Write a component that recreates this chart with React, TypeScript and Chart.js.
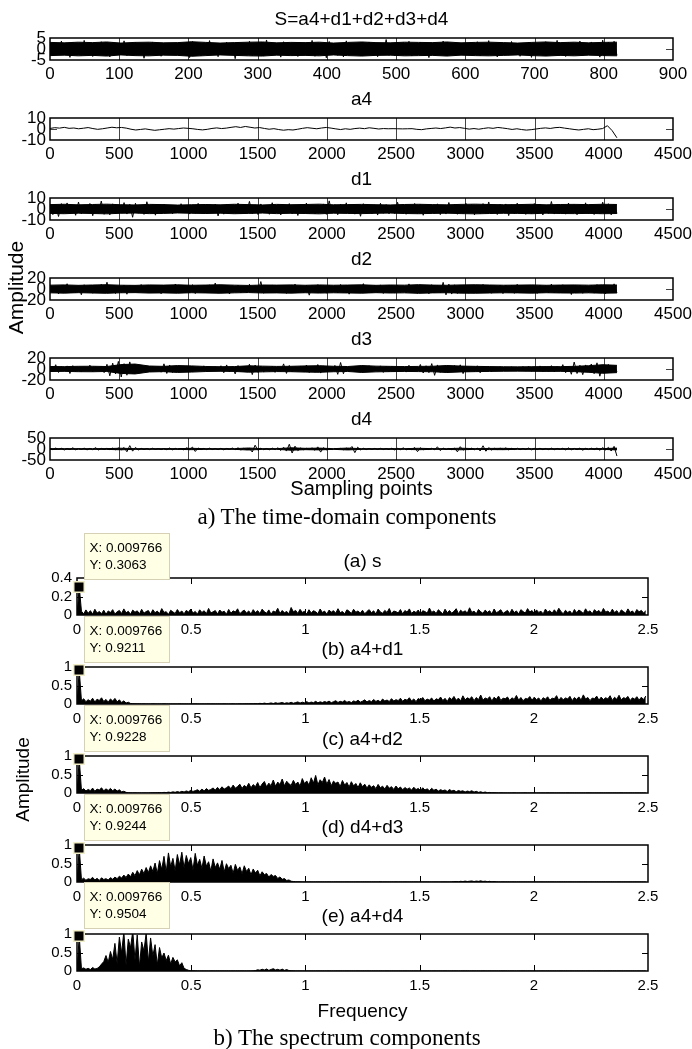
import { useEffect, useRef } from 'react';
import { Chart, registerables } from 'chart.js';

Chart.register(...registerables);

const SANS = '"Liberation Sans", Arial, Helvetica, sans-serif';
const SERIF = '"Liberation Serif", "Times New Roman", serif';

// ---------- time-domain data (decimated samples) ----------
const sLength = 820;
const sSignal = [
  2.8,-3.1,1.9,-2.4,3.6,-1.7,2.2,-3.8,3.1,-2.0,
  1.6,-2.9,3.9,-2.2,2.5,-3.4,1.8,-1.5,3.3,-2.7,
  2.1,-3.6,2.9,-1.9,1.4,-2.6,3.7,-3.0,2.3,-2.1,
  3.0,-1.8,2.6,-4.2,1.7,-2.3,3.2,-2.8,2.0,-3.3,
  1.5,-2.0,2.4,-1.6,1.9,-2.5,1.3,-1.8,2.7,-3.9,
  3.4,-2.6,2.0,-3.1,2.8,-1.9,3.8,-2.4,1.6,-3.5,
  2.5,-2.2,3.1,-1.7,2.2,-4.4,2.9,-2.0,1.8,-2.8,
  3.5,-3.0,2.4,-2.3,1.7,-3.2,4.1,-2.5,2.6,-1.9,
  2.0,-3.7,3.3,-2.1,2.7,-2.9,1.9,-3.4,3.0,-2.2,
  2.3,-1.6,3.9,-3.3,2.1,-2.4,2.8,-4.0,3.4,-2.7,
  1.8,-2.9,2.5,-3.6,3.7,-2.0,2.2,-2.6,1.6,-3.1,
  2.9,-2.3,3.2,-1.8,2.0,-3.5,2.6,-2.2,4.3,-2.9,
  2.4,-3.0,1.7,-2.4,2.9,-1.9,3.5,-3.2,2.1,-2.5,
  3.1,-2.7,2.3,-3.9,1.9,-2.1,2.7,-2.8,3.6,-2.0,
  1.7,-2.4,2.2,-1.7,1.6,-2.2,2.0,-1.9,2.5,-2.6,
  3.3,-3.1,2.6,-2.5,3.8,-2.3,2.1,-3.6,2.8,-2.1,
  2.2,-2.8,3.4,-2.0,2.5,-3.3,1.9,-2.6,3.0,-3.8,
  2.7,-2.2,1.8,-2.9,3.3,-2.4,2.4,-1.8,3.9,-3.0,
  2.0,-3.4,2.9,-2.7,2.3,-2.0,3.6,-3.1,2.6,-2.5,
  3.2,-2.1,2.5,-3.7,4.0,-2.8,3.1,-2.3,3.5,-2.9,
];
// half-width of the solid core of the dense trace, along the record
const sCore = [3.0,2.8,3.1,2.9,3.2,2.7,3.0,3.1,2.8,2.9,3.3,3.0,2.7,2.9,3.1,3.2,2.8,3.0,2.9,3.1,2.7,3.0,3.2,2.9,2.8,3.1,3.0,2.9,3.2,2.8,3.0,3.1,2.9,2.7,3.0,3.2,2.9,3.1,2.8,3.0,3.1];

const compLength = 4096;
const a4Signal = [
  0.5,1.2,0.8,1.5,0.6,0.9,0.2,0.7,1.3,0.4,
  -0.3,0.2,0.9,1.6,1.1,1.4,0.8,-0.2,-0.9,-0.4,
  0.1,-0.6,-1.2,-0.7,-0.2,0.3,-0.1,0.4,0.9,0.6,
  0.2,-0.4,-0.8,-0.3,0.5,1.0,0.4,0.8,1.5,2.1,
  1.4,2.3,1.6,0.9,1.3,0.5,-0.2,0.3,-0.5,-1.1,
  -0.6,-0.9,-0.2,0.6,1.2,0.7,0.2,0.9,1.4,0.8,
  0.1,-0.5,0.2,-0.3,0.4,0.8,0.3,1.1,0.6,0.0,
  0.4,0.2,0.3,0.2,0.1,0.2,0.3,-0.3,-0.6,0.1,
  0.5,0.9,0.4,1.0,1.7,0.9,1.3,0.6,-0.1,0.4,
  -0.2,0.5,1.1,0.6,1.4,0.9,0.3,-0.4,0.2,-0.5,
  -1.0,-0.6,0.0,0.6,1.0,0.5,1.2,1.5,0.8,0.2,
  -0.4,-0.9,-0.3,0.2,-0.6,-0.2,0.4,3.0,-1.5,-8.0,
];

const d1Signal = [
  4.2,-5.1,3.3,-6.8,4.9,-3.6,5.5,-4.2,3.1,-5.7,
  6.3,-4.4,3.8,-3.2,5.0,-6.1,4.1,-3.9,7.2,-4.8,
  3.6,-5.3,4.7,-4.0,3.0,-3.5,5.8,-4.6,4.3,-7.5,
  5.2,-3.8,3.4,-4.9,6.6,-3.3,4.0,-5.6,3.7,-4.1,
  4.5,-3.1,3.2,-4.4,2.9,-3.7,4.8,-2.8,3.5,-4.6,
  3.0,-3.9,5.1,-3.4,2.7,-4.2,3.9,-3.0,4.4,-6.3,
  3.3,-4.7,4.1,-2.9,3.6,-3.8,5.3,-4.1,3.1,-3.6,
  6.9,-4.3,3.8,-5.0,4.6,-3.2,3.4,-4.8,5.7,-3.5,
  4.0,-5.4,3.2,-3.7,4.9,-4.4,3.6,-5.9,4.3,-3.1,
  5.4,-4.0,3.7,-4.5,3.0,-3.6,4.6,-4.9,7.4,-3.8,
  3.9,-5.2,4.4,-3.3,5.6,-4.2,3.5,-4.7,4.1,-6.6,
  4.8,-3.6,3.1,-4.3,3.8,-5.5,5.2,-3.9,4.0,-4.4,
  3.4,-4.1,6.1,-3.6,4.5,-4.8,3.3,-3.5,5.0,-4.0,
  4.2,-5.7,3.9,-4.3,3.2,-3.9,4.7,-5.1,3.6,-4.6,
  5.9,-3.4,4.3,-4.8,3.7,-4.1,5.1,-3.7,4.0,-5.3,
  3.5,-4.4,4.9,-3.9,6.4,-4.5,3.8,-5.0,4.4,-3.6,
  4.6,-6.0,3.9,-4.2,5.3,-3.7,4.1,-4.9,3.4,-4.3,
  5.0,-3.8,4.5,-5.4,3.6,-4.0,6.8,-4.6,4.2,-3.9,
  3.7,-4.7,5.4,-3.5,4.4,-5.2,3.9,-4.1,5.6,-4.4,
  4.1,-5.0,3.6,-4.5,6.2,-3.9,4.8,-5.3,4.3,-4.0,
];
const d1Core = [4.0,4.3,3.8,4.1,4.4,3.9,3.7,4.2,4.0,3.6,3.9,4.1,3.8,4.3,4.0,3.7,4.2,3.9,4.1,4.4,3.8,4.0,4.2,3.9,3.7,4.1,4.3,4.0,3.8,4.2,4.4,4.1,3.9,4.0,4.3,3.8,4.1,4.2,4.0,4.3,4.1];

const d2Signal = [
  7.5,-6.2,5.8,-8.9,6.4,-5.1,9.6,-7.0,5.5,-6.8,
  6.1,-10.4,7.7,-5.6,6.9,-7.8,5.2,-6.3,8.4,-5.9,
  12.3,-7.1,6.0,-8.2,5.4,-6.6,7.3,-9.5,6.2,-5.7,
  5.9,-6.5,8.1,-5.3,6.6,-7.4,5.1,-6.0,7.0,-8.6,
  6.8,-5.5,5.6,-7.2,9.1,-6.1,6.3,-5.4,5.8,-6.9,
  7.9,-8.3,6.5,-5.8,5.3,-6.7,7.6,-6.2,10.8,-7.5,
  5.7,-6.4,6.8,-9.1,6.0,-5.6,7.2,-6.8,5.5,-7.3,
  8.6,-5.9,6.2,-6.6,13.5,-7.7,5.9,-6.1,7.4,-5.8,
  6.4,-7.0,5.6,-8.0,6.7,-6.3,8.9,-5.7,6.1,-6.9,
  7.1,-11.2,6.3,-5.9,7.8,-6.4,5.8,-7.6,6.6,-6.0,
  5.9,-6.8,8.2,-6.1,6.4,-9.4,7.0,-5.8,6.2,-7.1,
  9.7,-6.5,5.8,-7.3,6.9,-6.0,7.5,-8.1,6.3,-5.9,
  6.6,-7.4,7.2,-6.2,5.7,-6.9,9.3,-6.4,6.8,-7.8,
  7.4,-6.0,6.1,-8.7,7.9,-6.5,6.0,-7.2,12.1,-10.6,
  8.8,-9.2,7.6,-8.1,6.7,-6.3,7.1,-7.5,6.4,-6.8,
  6.2,-7.0,8.3,-5.9,6.6,-7.7,5.9,-6.2,7.3,-8.4,
  7.0,-6.1,6.4,-7.9,8.6,-6.6,6.8,-5.7,6.1,-7.2,
  5.8,-8.0,7.1,-6.4,6.0,-6.9,9.0,-7.3,6.5,-5.9,
  7.7,-6.6,6.2,-10.1,7.4,-6.1,6.9,-7.8,5.9,-6.4,
  6.8,-7.5,8.0,-6.3,6.3,-8.8,7.2,-6.7,9.4,-7.0,
];
const d2Core = [7.0,7.5,6.7,7.3,7.8,6.9,6.6,7.4,7.1,7.6,6.8,7.2,7.7,7.0,6.5,7.3,7.1,7.5,6.8,7.4,6.9,7.2,7.6,6.7,7.3,7.0,7.9,7.1,6.8,7.5,7.7,7.3,6.9,7.1,7.5,6.8,7.2,7.4,7.0,7.6,7.3];

const d3Signal = [
  5.2,-4.1,7.8,-6.3,4.4,-3.9,5.6,-8.2,6.1,-4.7,
  3.8,-5.5,4.2,-3.6,6.9,-5.1,4.0,-3.4,5.3,-6.6,
  8.5,-12.4,10.6,-9.1,13.8,-14.6,9.7,-11.3,12.9,-8.4,
  6.2,-5.4,4.6,-4.0,3.5,-4.4,5.1,-3.7,4.3,-5.8,
  9.4,-8.1,7.3,-6.5,4.8,-5.2,3.9,-4.3,5.6,-4.0,
  3.6,-3.2,4.1,-3.8,5.7,-4.5,3.4,-3.0,4.2,-3.6,
  5.9,-6.8,7.4,-5.5,4.6,-8.9,6.3,-5.1,4.4,-3.8,
  8.7,-10.2,7.1,-6.0,4.9,-5.6,3.8,-4.2,5.0,-6.1,
  4.1,-4.8,9.3,-8.0,6.4,-5.2,4.3,-3.9,5.5,-4.6,
  7.2,-6.4,4.8,-5.9,8.1,-7.4,5.6,-4.4,3.7,-4.0,
  6.5,-9.7,11.8,-8.6,5.4,-4.9,4.0,-3.6,5.2,-4.3,
  3.9,-4.5,6.0,-5.3,4.4,-3.8,5.7,-6.2,4.6,-5.0,
  5.3,-4.7,3.9,-4.2,4.8,-5.6,6.8,-5.2,4.1,-3.7,
  8.2,-7.3,5.9,-6.6,9.8,-11.5,7.4,-6.1,5.3,-4.8,
  4.7,-5.5,6.3,-4.9,7.6,-8.4,5.1,-4.4,3.9,-4.6,
  5.8,-6.9,4.4,-3.9,5.0,-4.5,3.6,-3.2,4.2,-3.8,
  3.4,-3.0,4.1,-3.6,2.9,-3.3,4.5,-3.9,5.2,-4.4,
  4.0,-3.5,5.6,-4.8,3.7,-4.2,6.1,-5.4,4.6,-3.9,
  7.9,-6.7,5.3,-9.6,12.6,-8.2,6.8,-10.3,7.4,-5.9,
  9.1,-8.5,11.2,-13.1,7.6,-6.9,8.3,-7.2,6.0,-5.0,
];
const d3Core = [4.6,4.3,4.9,5.0,4.5,8.0,9.0,5.4,4.8,6.2,5.6,4.6,4.2,4.4,5.8,5.2,4.7,4.9,5.6,6.0,5.0,4.5,6.3,5.2,4.8,4.4,4.7,5.0,6.4,5.3,4.8,4.4,4.1,3.9,4.2,4.4,4.3,4.8,6.0,7.8,6.6];

const d4Signal = [
  2.5,-3.1,4.2,-2.0,3.3,-4.6,2.1,-2.8,5.4,-3.7,
  2.2,-1.9,3.8,-4.1,2.6,-3.0,6.2,-4.5,2.9,-2.4,
  3.5,-2.7,4.0,-3.3,5.1,-3.9,6.8,-12.5,15.3,-9.8,
  7.1,-4.4,3.0,-2.6,2.1,-2.9,3.4,-2.2,1.8,-2.5,
  2.4,-3.2,4.6,-3.8,2.7,-2.1,3.1,-4.3,5.8,-3.0,
  8.6,-11.2,4.7,-3.5,2.6,-2.8,3.7,-2.3,2.0,-2.7,
  3.3,-3.9,2.5,-2.0,4.4,-3.1,5.6,-4.8,3.2,-2.6,
  2.9,-13.7,17.4,-6.2,3.8,-3.0,2.4,-3.6,4.1,-2.8,
  5.5,-6.7,8.1,-9.4,21.6,-18.3,12.8,-7.5,4.6,-3.4,
  3.1,-2.5,4.9,-5.8,9.7,-14.2,6.3,-3.9,2.7,-3.3,
  2.4,-2.0,2.8,-3.5,3.9,-2.6,11.4,-16.5,8.2,-4.1,
  3.2,-2.7,2.2,-1.9,2.6,-2.3,3.0,-2.5,2.1,-2.8,
  3.6,-4.4,2.9,-3.2,5.3,-4.0,2.7,-3.1,6.9,-11.9,
  5.7,-3.6,2.8,-2.4,3.4,-2.9,9.5,-7.3,4.2,-3.5,
  2.6,-3.0,4.3,-12.8,10.6,-5.2,3.1,-2.7,3.8,-3.3,
  4.5,-8.9,14.7,-10.1,6.4,-4.8,3.3,-2.9,4.0,-3.6,
  5.2,-4.1,3.0,-2.5,3.7,-3.2,2.6,-2.2,4.4,-3.8,
  2.9,-2.4,3.5,-3.0,2.3,-2.8,3.9,-3.4,2.7,-2.1,
  3.4,-4.0,5.1,-3.6,2.8,-3.3,4.2,-5.5,3.0,-2.6,
  3.8,-3.1,4.7,-5.9,6.6,-4.4,7.3,-9.2,12.1,-32.0,
];
const d4Core = [1.5,1.6,1.4,1.5,1.8,3.5,1.5,1.4,1.6,1.7,3.0,1.5,1.4,1.6,4.5,1.6,1.5,5.5,3.0,4.0,1.6,4.2,1.5,1.4,1.6,1.5,3.2,1.6,1.7,3.6,1.5,2.6,3.0,1.6,1.4,1.6,1.5,1.7,1.6,1.8,4.0];

// ---------- spectrum data (one value per frequency bin) ----------
const freqStep = 0.009766;
const tipYs = [0.3063, 0.9211, 0.9228, 0.9244, 0.9504];

const specS = [
  0.0,0.3063,0.041,0.012,0.055,0.018,0.047,0.009,0.062,0.021,0.038,0.014,0.052,0.007,0.044,0.026,
  0.058,0.011,0.035,0.049,0.016,0.066,0.023,0.040,0.008,0.053,0.030,0.045,0.013,0.061,0.019,0.037,
  0.048,0.010,0.057,0.025,0.042,0.015,0.069,0.028,0.036,0.006,0.051,0.033,0.017,0.059,0.024,0.043,
  0.012,0.050,0.031,0.064,0.020,0.039,0.009,0.056,0.027,0.046,0.014,0.071,0.022,0.034,0.048,0.011,
  0.054,0.029,0.041,0.008,0.060,0.018,0.045,0.032,0.067,0.013,0.038,0.052,0.021,0.044,0.010,0.058,
  0.026,0.047,0.015,0.063,0.035,0.019,0.055,0.008,0.043,0.030,0.072,0.016,0.049,0.024,0.039,0.012,
  0.081,0.034,0.050,0.017,0.061,0.028,0.040,0.011,0.057,0.022,0.046,0.035,0.014,0.065,0.027,0.042,
  0.009,0.053,0.031,0.047,0.019,0.068,0.025,0.038,0.012,0.056,0.041,0.016,0.062,0.029,0.044,0.020,
  0.051,0.013,0.039,0.058,0.024,0.045,0.010,0.064,0.033,0.018,0.050,0.027,0.070,0.015,0.043,0.036,
  0.022,0.059,0.012,0.048,0.031,0.066,0.017,0.041,0.026,0.054,0.009,0.046,0.037,0.020,0.075,0.028,
  0.044,0.016,0.057,0.034,0.011,0.063,0.025,0.049,0.019,0.040,0.068,0.014,0.052,0.030,0.045,0.021,
  0.078,0.027,0.042,0.013,0.060,0.035,0.018,0.053,0.029,0.046,0.010,0.065,0.024,0.039,0.057,0.017,
  0.034,0.050,0.015,0.062,0.026,0.044,0.011,0.058,0.037,0.021,0.069,0.032,0.048,0.016,0.055,0.028,
  0.041,0.012,0.064,0.030,0.047,0.019,0.056,0.025,0.073,0.036,0.014,0.051,0.027,0.043,0.010,0.060,
  0.023,0.054,0.038,0.016,0.067,0.029,0.045,0.013,0.058,0.033,0.049,0.020,0.071,0.031,0.042,0.018,
  0.063,0.026,0.047,0.011,0.055,0.037,0.019,0.066,0.028,0.044,0.015,0.059,0.034,0.050,0.022,0.045,
];

const specA4D1 = [
  0.0,0.9211,0.085,0.142,0.061,0.118,0.074,0.156,0.052,0.131,0.093,0.168,0.067,0.124,0.049,0.137,
  0.078,0.152,0.059,0.112,0.040,0.086,0.027,0.048,0.015,0.009,0.006,0.004,0.005,0.003,0.004,0.002,
  0.003,0.002,0.004,0.003,0.002,0.003,0.002,0.004,0.003,0.002,0.003,0.002,0.003,0.002,0.004,0.003,
  0.002,0.003,0.002,0.003,0.002,0.004,0.003,0.002,0.003,0.002,0.003,0.004,0.002,0.003,0.002,0.003,
  0.003,0.002,0.004,0.003,0.002,0.003,0.004,0.002,0.003,0.005,0.003,0.004,0.006,0.004,0.008,0.005,
  0.012,0.006,0.018,0.009,0.024,0.011,0.016,0.029,0.013,0.035,0.019,0.027,0.041,0.017,0.033,0.022,
  0.046,0.021,0.038,0.057,0.025,0.049,0.031,0.064,0.028,0.052,0.036,0.071,0.033,0.058,0.040,0.067,
  0.044,0.078,0.035,0.062,0.089,0.041,0.072,0.053,0.095,0.047,0.068,0.038,0.084,0.059,0.103,0.050,
  0.076,0.112,0.055,0.094,0.063,0.121,0.070,0.098,0.058,0.134,0.082,0.107,0.066,0.145,0.079,0.118,
  0.091,0.156,0.072,0.128,0.101,0.169,0.083,0.137,0.064,0.149,0.110,0.176,0.087,0.132,0.105,0.161,
  0.078,0.142,0.115,0.188,0.093,0.154,0.070,0.173,0.122,0.205,0.098,0.159,0.084,0.221,0.113,0.167,
  0.136,0.196,0.089,0.174,0.118,0.243,0.102,0.165,0.131,0.198,0.081,0.183,0.127,0.214,0.096,0.158,
  0.141,0.189,0.092,0.168,0.123,0.231,0.105,0.176,0.087,0.152,0.134,0.202,0.099,0.185,0.118,0.163,
  0.083,0.171,0.129,0.195,0.101,0.158,0.142,0.226,0.094,0.179,0.115,0.164,0.137,0.208,0.089,0.174,
  0.124,0.192,0.106,0.247,0.133,0.177,0.091,0.161,0.145,0.213,0.102,0.186,0.119,0.169,0.138,0.224,
  0.097,0.181,0.126,0.236,0.110,0.172,0.148,0.205,0.093,0.167,0.131,0.198,0.104,0.183,0.121,0.215,
];

const specA4D2 = [
  0.0,0.9228,0.072,0.118,0.054,0.096,0.063,0.132,0.047,0.105,0.081,0.139,0.058,0.112,0.069,0.124,
  0.061,0.107,0.052,0.086,0.031,0.048,0.017,0.009,0.005,0.003,0.004,0.002,0.003,0.002,0.003,0.002,
  0.003,0.004,0.006,0.005,0.009,0.013,0.008,0.017,0.012,0.024,0.015,0.031,0.019,0.038,0.022,0.045,
  0.028,0.056,0.035,0.071,0.042,0.063,0.088,0.049,0.104,0.057,0.119,0.072,0.095,0.136,0.078,0.152,
  0.091,0.168,0.105,0.143,0.187,0.112,0.214,0.131,0.176,0.238,0.124,0.205,0.156,0.262,0.139,0.227,
  0.171,0.284,0.146,0.243,0.312,0.168,0.266,0.198,0.351,0.182,0.295,0.227,0.378,0.194,0.318,0.249,
  0.206,0.342,0.231,0.297,0.186,0.389,0.254,0.326,0.213,0.412,0.268,0.475,0.221,0.358,0.287,0.432,
  0.239,0.364,0.198,0.321,0.262,0.297,0.174,0.339,0.215,0.284,0.162,0.306,0.193,0.258,0.147,0.276,
  0.168,0.239,0.136,0.221,0.154,0.198,0.118,0.232,0.142,0.185,0.106,0.207,0.129,0.172,0.097,0.188,
  0.114,0.162,0.088,0.149,0.103,0.137,0.079,0.156,0.092,0.124,0.068,0.141,0.083,0.112,0.061,0.127,
  0.074,0.103,0.052,0.091,0.063,0.082,0.041,0.095,0.055,0.073,0.034,0.068,0.046,0.059,0.028,0.052,
  0.037,0.061,0.024,0.045,0.018,0.033,0.012,0.027,0.008,0.015,0.005,0.009,0.004,0.003,0.004,0.002,
  0.003,0.002,0.003,0.002,0.004,0.002,0.003,0.002,0.003,0.004,0.002,0.003,0.002,0.003,0.002,0.003,
  0.002,0.003,0.002,0.004,0.002,0.003,0.002,0.002,0.003,0.002,0.003,0.002,0.004,0.002,0.003,0.002,
  0.003,0.002,0.002,0.003,0.002,0.004,0.003,0.002,0.002,0.003,0.002,0.003,0.002,0.002,0.003,0.002,
  0.002,0.003,0.002,0.002,0.004,0.002,0.003,0.002,0.003,0.002,0.002,0.003,0.002,0.003,0.002,0.002,
];

const specD4D3 = [
  0.0,0.9244,0.063,0.104,0.048,0.087,0.071,0.126,0.055,0.098,0.042,0.113,0.067,0.091,0.052,0.118,
  0.074,0.132,0.089,0.158,0.107,0.186,0.124,0.215,0.143,0.262,0.171,0.308,0.196,0.347,0.228,0.391,
  0.254,0.437,0.286,0.512,0.231,0.578,0.342,0.694,0.267,0.786,0.415,0.638,0.303,0.742,0.459,0.805,
  0.382,0.716,0.497,0.659,0.324,0.774,0.451,0.612,0.368,0.703,0.427,0.548,0.295,0.624,0.389,0.517,
  0.343,0.582,0.276,0.494,0.361,0.452,0.238,0.476,0.312,0.409,0.224,0.438,0.286,0.371,0.193,0.352,
  0.242,0.318,0.167,0.276,0.198,0.231,0.134,0.203,0.152,0.176,0.095,0.138,0.072,0.094,0.041,0.056,
  0.021,0.013,0.008,0.005,0.004,0.003,0.002,0.003,0.002,0.003,0.002,0.002,0.003,0.002,0.003,0.002,
  0.002,0.003,0.002,0.002,0.003,0.002,0.003,0.002,0.002,0.003,0.002,0.003,0.002,0.002,0.003,0.002,
  0.003,0.002,0.002,0.003,0.002,0.003,0.002,0.002,0.004,0.002,0.003,0.002,0.002,0.003,0.002,0.003,
  0.002,0.003,0.002,0.003,0.002,0.002,0.003,0.002,0.003,0.002,0.002,0.003,0.002,0.003,0.002,0.002,
  0.002,0.003,0.002,0.002,0.003,0.002,0.003,0.002,0.004,0.009,0.014,0.008,0.019,0.011,0.024,0.013,
  0.021,0.028,0.012,0.025,0.017,0.031,0.014,0.022,0.009,0.018,0.006,0.012,0.004,0.003,0.002,0.003,
  0.002,0.003,0.002,0.002,0.003,0.002,0.003,0.002,0.002,0.003,0.002,0.003,0.002,0.002,0.003,0.002,
  0.003,0.002,0.002,0.003,0.002,0.003,0.002,0.002,0.003,0.002,0.002,0.003,0.002,0.003,0.002,0.002,
  0.002,0.003,0.002,0.002,0.003,0.002,0.002,0.003,0.002,0.003,0.002,0.002,0.003,0.002,0.003,0.002,
  0.003,0.002,0.002,0.003,0.002,0.003,0.002,0.002,0.003,0.002,0.003,0.002,0.002,0.003,0.002,0.003,
];

const specA4D4 = [
  0.0,0.9504,0.061,0.083,0.047,0.072,0.039,0.095,0.054,0.068,0.112,0.186,0.254,0.418,0.236,0.527,
  0.312,0.746,0.204,0.918,0.487,1.06,0.153,0.862,0.631,1.08,0.296,0.974,0.118,0.785,0.542,1.02,
  0.247,0.893,0.406,0.712,0.168,0.634,0.351,0.486,0.283,0.427,0.192,0.368,0.246,0.301,0.137,0.224,
  0.072,0.041,0.019,0.008,0.005,0.004,0.003,0.002,0.003,0.002,0.003,0.002,0.003,0.002,0.002,0.003,
  0.002,0.003,0.002,0.003,0.002,0.002,0.003,0.002,0.003,0.002,0.003,0.002,0.002,0.003,0.002,0.004,
  0.012,0.034,0.021,0.048,0.027,0.055,0.018,0.041,0.063,0.029,0.046,0.022,0.051,0.017,0.038,0.013,
  0.006,0.004,0.003,0.002,0.003,0.002,0.002,0.003,0.002,0.003,0.002,0.002,0.003,0.002,0.003,0.002,
  0.002,0.003,0.002,0.002,0.003,0.002,0.003,0.002,0.002,0.003,0.002,0.003,0.002,0.002,0.003,0.002,
  0.003,0.002,0.002,0.003,0.002,0.003,0.002,0.002,0.003,0.002,0.002,0.003,0.002,0.003,0.002,0.002,
  0.002,0.003,0.002,0.003,0.002,0.002,0.003,0.002,0.003,0.002,0.002,0.003,0.002,0.002,0.003,0.002,
  0.003,0.002,0.002,0.003,0.002,0.003,0.002,0.002,0.003,0.002,0.003,0.002,0.002,0.003,0.002,0.003,
  0.002,0.003,0.002,0.002,0.003,0.002,0.003,0.002,0.002,0.003,0.002,0.002,0.003,0.002,0.003,0.002,
  0.003,0.002,0.002,0.003,0.002,0.002,0.003,0.002,0.003,0.002,0.002,0.003,0.002,0.003,0.002,0.002,
  0.002,0.003,0.002,0.003,0.002,0.002,0.003,0.002,0.002,0.003,0.002,0.003,0.002,0.002,0.003,0.002,
  0.003,0.002,0.002,0.003,0.002,0.003,0.002,0.002,0.003,0.002,0.003,0.002,0.002,0.003,0.002,0.003,
  0.002,0.003,0.002,0.002,0.003,0.002,0.003,0.002,0.002,0.003,0.002,0.002,0.003,0.002,0.003,0.002,
];

// ---------- ticks ----------
const sTicks = [0, 100, 200, 300, 400, 500, 600, 700, 800, 900];
const timeTicks = [0, 500, 1000, 1500, 2000, 2500, 3000, 3500, 4000, 4500];
const freqTicks = [0, 0.5, 1, 1.5, 2, 2.5];

const timeTitles = ['S=a4+d1+d2+d3+d4', 'a4', 'd1', 'd2', 'd3', 'd4'];
const specTitles = ['(a) s', '(b) a4+d1', '(c) a4+d2', '(d) d4+d3', '(e) a4+d4'];

// ---------- layout ----------
const CANVAS_W = 700;
type Fig = {
  left: number; right: number; h: number; tickFont: number; xPad: number; yPad: number;
  tickLenX: number; tickLenY: number; tickColor: string; above: number; below: number;
};
const TOP: Fig = { left: 50, right: 673, h: 22, tickFont: 17, xPad: 4, yPad: 4, tickLenX: 11, tickLenY: 7, tickColor: '#444', above: 20, below: 28 };
const BOT: Fig = { left: 77, right: 648, h: 37, tickFont: 15, xPad: 6, yPad: 5, tickLenX: 6, tickLenY: 6, tickColor: '#000', above: 56, below: 30 };
const topPlotTops = [38, 118, 198, 278, 358, 438];
const botPlotTops = [578, 667, 756, 845, 934];
const botTitleY = [560, 648, 738, 826, 915];

type Mode = 'line' | 'band' | 'area';
type Spec = {
  xs: number[]; ys: number[]; mode: Mode; core?: number[]; span?: number;
  xMin: number; xMax: number; xTicks: number[];
  yMin: number; yMax: number; yTicks: number[];
  top: number; fig: Fig; tip?: { x: number; y: number };
};

const idx = (n: number, span: number) => Array.from({ length: n }, (_, i) => (i * span) / (n - 1));
const fx = (n: number) => Array.from({ length: n }, (_, i) => i * freqStep);

function buildDatasets(spec: Spec): any[] {
  const base = { borderColor: '#000', borderWidth: 1, pointRadius: 0, tension: 0 };
  const pts = spec.ys.map((y, i) => ({ x: spec.xs[i], y }));
  if (spec.mode === 'band' && spec.core) {
    const cx = idx(spec.core.length, spec.span || 1);
    const upper = spec.core.map((c, j) => ({ x: cx[j], y: c }));
    const lower = spec.core.map((c, j) => ({ x: cx[j], y: -c }));
    return [
      { ...base, data: upper, fill: '+1', backgroundColor: '#000' },
      { ...base, data: lower, fill: false },
      { ...base, data: pts, fill: false },
    ];
  }
  if (spec.mode === 'area') {
    return [{ ...base, data: pts, fill: 'origin', backgroundColor: '#000' }];
  }
  return [{ ...base, data: pts, fill: false }];
}

function Panel({ spec }: { spec: Spec }) {
  const ref = useRef<HTMLCanvasElement | null>(null);
  const f = spec.fig;
  const ch = f.above + f.h + f.below;
  useEffect(() => {
    const canvas = ref.current;
    if (!canvas) return;
    const ticksPlugin = {
      id: 'innerTicks',
      beforeDatasetsDraw(chart: any) {
        const { ctx, chartArea: a } = chart;
        const xs = chart.scales.x, ys = chart.scales.y;
        ctx.save();
        ctx.strokeStyle = f.tickColor;
        ctx.lineWidth = 1;
        ctx.beginPath();
        for (const t of spec.xTicks) {
          if (t <= spec.xMin || t >= spec.xMax) continue;
          const px = Math.round(xs.getPixelForValue(t)) + 0.5;
          ctx.moveTo(px, a.top); ctx.lineTo(px, a.top + f.tickLenX);
          ctx.moveTo(px, a.bottom); ctx.lineTo(px, a.bottom - f.tickLenX);
        }
        for (const t of spec.yTicks) {
          if (t <= spec.yMin || t >= spec.yMax) continue;
          const py = Math.round(ys.getPixelForValue(t)) + 0.5;
          ctx.moveTo(a.left, py); ctx.lineTo(a.left + f.tickLenY, py);
          ctx.moveTo(a.right, py); ctx.lineTo(a.right - f.tickLenY, py);
        }
        ctx.stroke();
        ctx.restore();
      },
      afterDatasetsDraw(chart: any) {
        const { ctx, chartArea: a } = chart;
        ctx.save();
        ctx.strokeStyle = '#000';
        ctx.lineWidth = 1.5;
        ctx.strokeRect(a.left, a.top, a.right - a.left, a.bottom - a.top);
        ctx.restore();
      },
    };
    const tipPlugin = {
      id: 'dataTip',
      afterDraw(chart: any) {
        if (!spec.tip) return;
        const { ctx } = chart;
        const px = chart.scales.x.getPixelForValue(spec.tip.x);
        const py = chart.scales.y.getPixelForValue(spec.tip.y);
        const bw = 85, bh = 46;
        const bx = Math.round(px + 5) + 0.5;
        const by = Math.round(py - 8 - bh) + 0.5;
        ctx.save();
        ctx.fillStyle = '#ffffe6';
        ctx.fillRect(bx, by, bw, bh);
        ctx.strokeStyle = '#d6d1b5';
        ctx.lineWidth = 1;
        ctx.strokeRect(bx, by, bw, bh);
        ctx.fillStyle = '#000';
        ctx.font = `13.5px ${SANS}`;
        ctx.textAlign = 'left';
        ctx.textBaseline = 'middle';
        ctx.fillText(`X: ${spec.tip.x}`, bx + 5, by + 14.5);
        ctx.fillText(`Y: ${spec.tip.y}`, bx + 5, by + 31.5);
        ctx.fillStyle = '#f1edc4';
        ctx.fillRect(Math.round(px) - 6, Math.round(py) - 6, 12, 12);
        ctx.fillStyle = '#000';
        ctx.fillRect(Math.round(px) - 4.5, Math.round(py) - 4.5, 9, 9);
        ctx.restore();
      },
    };
    const font = { family: SANS, size: f.tickFont };
    const chart = new Chart(canvas, {
      type: 'line',
      data: { datasets: buildDatasets(spec) },
      options: {
        animation: false,
        responsive: false,
        maintainAspectRatio: false,
        devicePixelRatio: 1,
        events: [],
        layout: { padding: { top: f.above, right: CANVAS_W - f.right, bottom: 0, left: 0 } },
        plugins: { legend: { display: false }, tooltip: { enabled: false }, title: { display: false }, filler: { propagate: false } },
        scales: {
          x: {
            type: 'linear',
            min: spec.xMin,
            max: spec.xMax,
            grid: { display: false, drawTicks: false, tickLength: 0 },
            border: { display: false },
            afterBuildTicks: (ax: any) => { ax.ticks = spec.xTicks.map((v) => ({ value: v })); },
            afterFit: (ax: any) => { ax.height = f.below; },
            ticks: {
              autoSkip: false, maxRotation: 0, minRotation: 0, padding: f.xPad, color: '#000', font,
              callback: (v: any) => String(v),
            },
          },
          y: {
            type: 'linear',
            min: spec.yMin,
            max: spec.yMax,
            grid: { display: false, drawTicks: false, tickLength: 0 },
            border: { display: false },
            afterBuildTicks: (ax: any) => { ax.ticks = spec.yTicks.map((v) => ({ value: v })); },
            afterFit: (ax: any) => { ax.width = f.left; },
            ticks: {
              autoSkip: false, padding: f.yPad, color: '#000', font,
              callback: (v: any) => String(v),
            },
          },
        },
      } as any,
      plugins: [ticksPlugin, tipPlugin],
    });
    return () => chart.destroy();
  }, [spec]);
  return (
    <canvas
      ref={ref}
      width={CANVAS_W}
      height={ch}
      style={{ position: 'absolute', left: 0, top: spec.top - f.above, width: CANVAS_W, height: ch, display: 'block' }}
    />
  );
}

function Txt({ text, cx, cy, size, family = SANS, rotate = false }: { text: string; cx: number; cy: number; size: number; family?: string; rotate?: boolean }) {
  return (
    <div
      style={{
        position: 'absolute', left: cx - 300, top: cy - size / 2, width: 600, height: size,
        textAlign: 'center', fontFamily: family, fontSize: size, lineHeight: `${size}px`,
        whiteSpace: 'nowrap', color: '#000',
        transform: rotate ? 'rotate(-90deg)' : undefined, transformOrigin: '50% 50%',
      }}
    >
      {text}
    </div>
  );
}

const timeSeries = [sSignal, a4Signal, d1Signal, d2Signal, d3Signal, d4Signal];
const timeCores = [sCore, undefined, d1Core, d2Core, d3Core, d4Core];
const timeRanges = [5, 10, 10, 20, 20, 50];
const specSeries = [specS, specA4D1, specA4D2, specD4D3, specA4D4];

const timeSpecs: Spec[] = timeSeries.map((vals, k) => {
  const span = (k === 0 ? sLength : compLength) - 1;
  return {
    xs: idx(vals.length, span),
    ys: vals,
    mode: k === 1 ? 'line' : 'band',
    core: timeCores[k],
    span,
    xMin: 0,
    xMax: k === 0 ? 900 : 4500,
    xTicks: k === 0 ? sTicks : timeTicks,
    yMin: -timeRanges[k],
    yMax: timeRanges[k],
    yTicks: [-timeRanges[k], 0, timeRanges[k]],
    top: topPlotTops[k],
    fig: TOP,
  };
});

const specSpecs: Spec[] = specSeries.map((vals, k) => ({
  xs: fx(vals.length),
  ys: vals,
  mode: 'area',
  xMin: 0,
  xMax: 2.5,
  xTicks: freqTicks,
  yMin: 0,
  yMax: k === 0 ? 0.4 : 1,
  yTicks: k === 0 ? [0, 0.2, 0.4] : [0, 0.5, 1],
  top: botPlotTops[k],
  fig: BOT,
  tip: { x: freqStep, y: tipYs[k] },
}));

export default function App() {
  const topCx = (TOP.left + TOP.right) / 2;
  const botCx = (BOT.left + BOT.right) / 2;
  return (
    <div style={{ position: 'absolute', left: 0, top: 0, width: 692, height: 1049, overflow: 'hidden', background: '#fff' }}>
      {timeSpecs.map((s, k) => <Panel key={'t' + k} spec={s} />)}
      {specSpecs.map((s, k) => <Panel key={'f' + k} spec={s} />)}
      {timeTitles.map((t, k) => (
        <Txt key={'tt' + k} text={t} cx={topCx} cy={topPlotTops[k] - 20} size={19} />
      ))}
      <Txt text="Sampling points" cx={topCx} cy={488} size={20} />
      <Txt text="Amplitude" cx={15} cy={287} size={21} rotate />
      <Txt text="a) The time-domain components" cx={347} cy={516} size={23} family={SERIF} />
      {specTitles.map((t, k) => (
        <Txt key={'st' + k} text={t} cx={botCx} cy={botTitleY[k]} size={19} />
      ))}
      <Txt text="Frequency" cx={botCx} cy={1010} size={19} />
      <Txt text="Amplitude" cx={22} cy={779} size={19} rotate />
      <Txt text="b) The spectrum components" cx={347} cy={1037} size={23} family={SERIF} />
    </div>
  );
}
